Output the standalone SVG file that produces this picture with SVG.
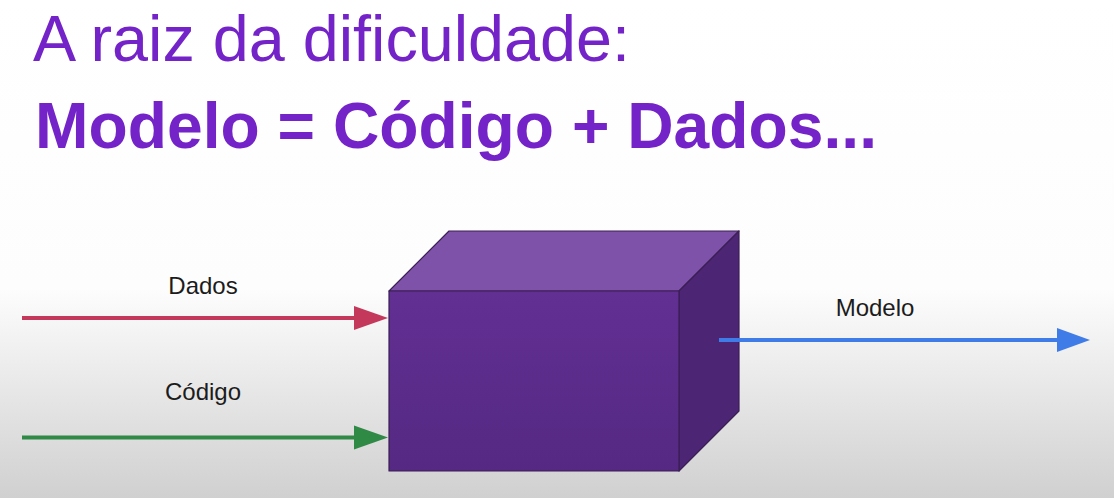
<svg xmlns="http://www.w3.org/2000/svg" width="1114" height="498" viewBox="0 0 1114 498">
  <defs>
    <linearGradient id="bg" x1="0" y1="0" x2="0" y2="1">
      <stop offset="0" stop-color="#ffffff"/>
      <stop offset="0.58" stop-color="#fdfdfd"/>
      <stop offset="1" stop-color="#d0d0d0"/>
    </linearGradient>
    <linearGradient id="front" x1="0" y1="0" x2="0" y2="1">
      <stop offset="0" stop-color="#622f93"/>
      <stop offset="1" stop-color="#552983"/>
    </linearGradient>
    <style>
      .title { font-family: "Liberation Sans", Arial, sans-serif; font-size: 64px; fill: #7423c9; }
      .bold { font-weight: bold; }
      .label { font-family: "Liberation Sans", Arial, sans-serif; font-size: 24px; fill: #1c1c1c; text-anchor: middle; }
      .edge { stroke: #3b1f55; stroke-width: 1.2; stroke-linejoin: round; }
    </style>
  </defs>
  <rect width="1114" height="498" fill="url(#bg)"/>

  <g id="title">
    <text class="title" x="33" y="61" textLength="597" lengthAdjust="spacingAndGlyphs">A raiz da dificuldade:</text>
    <text class="title bold" x="35" y="148" textLength="842" lengthAdjust="spacingAndGlyphs">Modelo = Código + Dados...</text>
  </g>

  <g id="cube">
    <polygon class="edge" points="389,291 449,231 739,231 679,291" fill="#7f52a9"/>
    <polygon class="edge" points="679,291 739,231 739,411 679,471" fill="#4c2574"/>
    <rect class="edge" x="389" y="291" width="290" height="180" fill="url(#front)"/>
  </g>

  <g id="connectors">
    <line x1="22" y1="318" x2="356" y2="318" stroke="#c4385c" stroke-width="4"/>
    <polygon points="354,306 388,318 354,330" fill="#c4385c"/>
    <line x1="22" y1="437.5" x2="356" y2="437.5" stroke="#2f8a46" stroke-width="4"/>
    <polygon points="354,425.5 388,437.5 354,449.5" fill="#2f8a46"/>
    <line x1="719" y1="340" x2="1059" y2="340" stroke="#3f7ce8" stroke-width="4"/>
    <polygon points="1057,328 1090,340 1057,352" fill="#3f7ce8"/>
  </g>

  <g id="label-dados">
    <text class="label" x="203" y="294">Dados</text>
  </g>
  <g id="label-codigo">
    <text class="label" x="203" y="400">Código</text>
  </g>
  <g id="label-modelo">
    <text class="label" x="875" y="316">Modelo</text>
  </g>
</svg>
